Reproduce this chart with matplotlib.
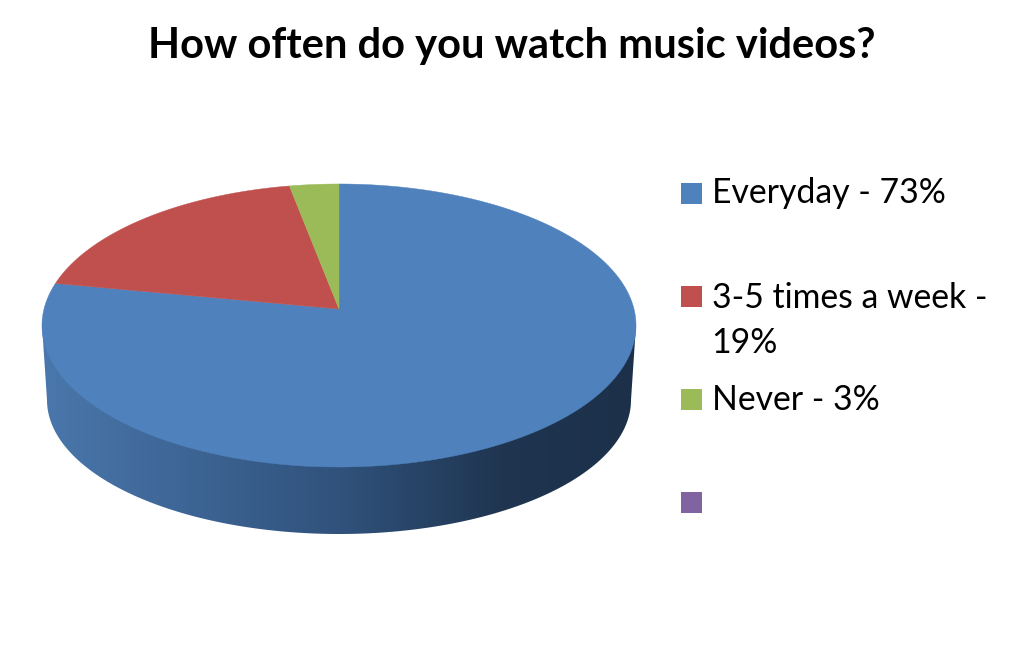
"""Pizza 3D: frequência de ver videoclipes."""
import numpy as np
import matplotlib
matplotlib.use("Agg")
import matplotlib.pyplot as plt
from matplotlib.colors import LinearSegmentedColormap
from matplotlib.patches import Polygon, Rectangle

titulo = "How often do you watch music videos?"
rotulos = ["Everyday - 73%", "3-5 times a week -\n19%", "Never - 3%", ""]
# fatias como aparecem no desenho (a azul ocupa mais do que o rótulo diz)
valores = [78, 19, 3]
cores = ["#4F81BD", "#C0504D", "#9BBB59", "#8064A2"]
parede_x = [47, 340, 500, 632]
parede_cores = ["#4A77AC", "#30527C", "#1F3550", "#1C3049"]
legenda_y = [193, 296, 399.5, 502.5]
texto_y = [203, 353, 410, 513]

# geometria em pixels da imagem
CX, APICE_Y = 339, 309
K, RX, RY = 0.1166, 295.0, 139.6


def projetar(theta):
    """theta em radianos, sentido horário a partir do topo."""
    u, v = np.sin(theta), np.cos(theta)
    den = 1 + K * v
    return CX + RX * u / den, APICE_Y - RY * v / den


def main() -> None:
    plt.rcParams["font.family"] = ["Lato", "DejaVu Sans"]
    fig = plt.figure(figsize=(10.11, 6.67), dpi=100)
    ax = fig.add_axes([0, 0, 1, 1])

    # parede lateral com gradiente
    t = np.linspace(np.pi / 2, -np.pi / 2, 200)
    base_x = 339 + 292 * np.sin(t)
    base_y = 400 + 134 * np.cos(t)
    contorno = np.column_stack(
        [np.r_[636, base_x, 42], np.r_[325, base_y, 325]]
    )
    clip = Polygon(contorno, closed=True, transform=ax.transData, fc="none", ec="none")
    ax.add_patch(clip)
    pos = [(x - parede_x[0]) / (parede_x[-1] - parede_x[0]) for x in parede_x]
    cmap = LinearSegmentedColormap.from_list("parede", list(zip(pos, parede_cores)))
    img = ax.imshow(
        np.linspace(0, 1, 512).reshape(1, -1),
        cmap=cmap,
        extent=(parede_x[0] - 5, parede_x[-1] + 5, 540, 320),
        aspect="auto",
        zorder=1,
    )
    img.set_clip_path(clip)
    ax.set_xlim(0, 1011)
    ax.set_ylim(667, 0)
    ax.axis("off")

    # fatias do topo
    total = sum(valores)
    inicio = 0.0
    for valor, cor in zip(valores, cores):
        fim = inicio + 2 * np.pi * valor / total
        th = np.linspace(inicio, fim, 300)
        x, y = projetar(th)
        pts = np.column_stack([np.r_[CX, x], np.r_[APICE_Y, y]])
        ax.add_patch(Polygon(pts, closed=True, fc=cor, ec=cor, lw=0.3, zorder=2))
        inicio = fim

    ax.text(512, 46, titulo, ha="center", va="center", fontsize=30,
            fontweight="bold", color="black")

    # legenda
    for rotulo, cor, ly, ty in zip(rotulos, cores, legenda_y, texto_y):
        ax.add_patch(Rectangle((681, ly - 10.5), 21, 21, fc=cor, ec="none", zorder=3))
        if rotulo:
            ax.text(711.5, ty, rotulo, ha="left", va="baseline", fontsize=24.3,
                    color="black", linespacing=1.5)

    fig.savefig("out.png", dpi=100, facecolor="white")


if __name__ == "__main__":
    main()
